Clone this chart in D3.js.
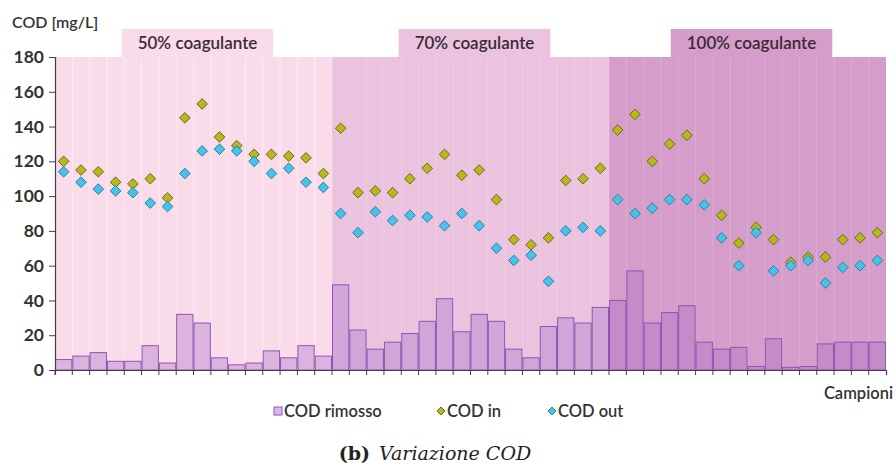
<!DOCTYPE html>
<html>
<head>
<meta charset="utf-8">
<script src="https://cdn.jsdelivr.net/npm/d3@7"></script>
<style>
body { margin: 0; background: #fff; }
</style>
</head>
<body>
<div id="chart"></div>
<script>
// sample values
const samples = d3.range(1, 49);
const codIn = [120, 115, 114, 108, 107, 110, 99, 145, 153, 134, 129, 124, 124, 123, 122, 113,
               139, 102, 103, 102, 110, 116, 124, 112, 115, 98, 75, 72, 76, 109, 110, 116,
               138, 147, 120, 130, 135, 110, 89, 73, 82, 75, 62, 65, 65, 75, 76, 79];
const codOut = [114, 108, 104, 103, 102, 96, 94, 113, 126, 127, 126, 120, 113, 116, 108, 105,
                90, 79, 91, 86, 89, 88, 83, 90, 83, 70, 63, 66, 51, 80, 82, 80,
                98, 90, 93, 98, 98, 95, 76, 60, 79, 57, 60, 63, 50, 59, 60, 63];
const codRimosso = [6, 8, 10, 5, 5, 14, 4, 32, 27, 7, 3, 4, 11, 7, 14, 8,
                    49, 23, 12, 16, 21, 28, 41, 22, 32, 28, 12, 7, 25, 30, 27, 36,
                    40, 57, 27, 33, 37, 16, 12, 13, 2, 18, 1.5, 2, 15, 16, 16, 16];
const phases = ["50% coagulante", "70% coagulante", "100% coagulante"];
const phaseSizes = [16, 16, 16];
const phaseColors = ["#f9dbea", "#ebc3df", "#d59dca"];
const yTicks = [0, 20, 40, 60, 80, 100, 120, 140, 160, 180];

const width = 896, height = 471;
const margin = {top: 57, right: 10, bottom: 101, left: 55};
const font = "Lato, 'Open Sans', sans-serif";

const svg = d3.select("#chart").append("svg")
    .attr("width", width)
    .attr("height", height)
    .style("font-family", font);

const x = d3.scaleBand()
    .domain(samples)
    .range([margin.left, width - margin.right])
    .padding(0);

const y = d3.scaleLinear()
    .domain([0, 180])
    .range([height - margin.bottom, margin.top]);

// phase backgrounds
let start = 0;
const phaseData = phaseSizes.map((n, i) => {
    const d = {name: phases[i], first: samples[start], last: samples[start + n - 1], color: phaseColors[i]};
    start += n;
    return d;
});

const bg = svg.append("g");
bg.selectAll("rect.phase")
    .data(phaseData)
    .join("rect")
    .attr("class", "phase")
    .attr("x", d => x(d.first))
    .attr("width", d => x(d.last) + x.bandwidth() - x(d.first))
    .attr("y", y(180))
    .attr("height", y(0) - y(180))
    .attr("fill", d => d.color);

// label tabs on top of each phase
bg.selectAll("g.tab")
    .data(phaseData)
    .join("g")
    .attr("class", "tab")
    .each(function(d) {
        const g = d3.select(this);
        const cx = (x(d.first) + x(d.last) + x.bandwidth()) / 2 + 4;
        const txt = g.append("text")
            .attr("x", cx)
            .attr("y", y(180) - 8)
            .attr("text-anchor", "middle")
            .attr("font-size", 17)
            .attr("font-weight", 600)
            .attr("fill", "#3a2a35")
            .text(d.name);
        const w = txt.node().getComputedTextLength() + 32;
        g.insert("rect", "text")
            .attr("x", cx - w / 2)
            .attr("y", y(180) - 28)
            .attr("width", w)
            .attr("height", 28)
            .attr("fill", d.color);
    });

// faint sample separators
bg.selectAll("line.sep")
    .data(samples.slice(1))
    .join("line")
    .attr("class", "sep")
    .attr("x1", d => x(d))
    .attr("x2", d => x(d))
    .attr("y1", y(180))
    .attr("y2", y(0))
    .attr("stroke", "#ffffff")
    .attr("stroke-opacity", (d, i) => i < 15 ? 0.45 : 0.18)
    .attr("stroke-width", 1);

// COD rimosso bars
svg.append("g")
    .selectAll("rect")
    .data(samples)
    .join("rect")
    .attr("x", d => x(d) + 0.5)
    .attr("width", x.bandwidth() - 1)
    .attr("y", (d, i) => y(codRimosso[i]))
    .attr("height", (d, i) => y(0) - y(codRimosso[i]))
    .attr("fill", "rgba(165,105,200,0.35)")
    .attr("stroke", "#8d55b4")
    .attr("stroke-width", 1);

// axes
svg.append("g")
    .attr("transform", `translate(${margin.left},0)`)
    .call(d3.axisLeft(y).tickValues(yTicks).tickSize(6).tickPadding(5))
    .call(g => g.select(".domain").attr("stroke", "#4a3a48").attr("stroke-width", 1.2))
    .call(g => g.selectAll(".tick line").attr("stroke", "#4a3a48"))
    .call(g => g.selectAll(".tick text")
        .attr("font-size", 17.5)
        .attr("font-weight", 700)
        .attr("fill", "#333")
        .attr("font-family", font));

svg.append("g")
    .attr("transform", `translate(0,${y(0)})`)
    .call(d3.axisBottom(x).tickSize(5).tickFormat(""))
    .call(g => g.select(".domain").attr("stroke", "#4a3a48").attr("stroke-width", 1.2))
    .call(g => g.selectAll(".tick").attr("transform", d => `translate(${x(d)},0)`))
    .call(g => g.selectAll(".tick line").attr("stroke", "#4a3a48"));

// diamonds
const diamond = d3.symbol().type(d3.symbolDiamond2).size(72);

svg.append("g")
    .selectAll("path")
    .data(samples)
    .join("path")
    .attr("d", diamond)
    .attr("transform", (d, i) => `translate(${x(d) + x.bandwidth() / 2},${y(codIn[i])})`)
    .attr("fill", "#b8b81c")
    .attr("stroke", "#6a6a18")
    .attr("stroke-width", 1);

svg.append("g")
    .selectAll("path")
    .data(samples)
    .join("path")
    .attr("d", diamond)
    .attr("transform", (d, i) => `translate(${x(d) + x.bandwidth() / 2},${y(codOut[i])})`)
    .attr("fill", "#45c3ea")
    .attr("stroke", "#2d7f9c")
    .attr("stroke-width", 1);

// axis titles
svg.append("text")
    .attr("x", 12)
    .attr("y", 28)
    .attr("font-size", 16)
    .attr("font-weight", 600)
    .attr("fill", "#333")
    .text("COD [mg/L]");

svg.append("text")
    .attr("x", 893)
    .attr("y", 399)
    .attr("text-anchor", "end")
    .attr("font-size", 16.5)
    .attr("font-weight", 600)
    .attr("fill", "#333")
    .text("Campioni");

// legend
const legend = svg.append("g").attr("transform", "translate(0,417)");
legend.append("rect")
    .attr("x", 274).attr("y", -10).attr("width", 8).attr("height", 8)
    .attr("fill", "rgba(165,105,200,0.45)")
    .attr("stroke", "#8d55b4");
legend.append("text").attr("x", 284).attr("y", 0).text("COD rimosso");
legend.append("path")
    .attr("d", d3.symbol().type(d3.symbolDiamond2).size(40))
    .attr("transform", "translate(441,-6)")
    .attr("fill", "#b8b81c").attr("stroke", "#6a6a18");
legend.append("text").attr("x", 447).attr("y", 0).text("COD in");
legend.append("path")
    .attr("d", d3.symbol().type(d3.symbolDiamond2).size(40))
    .attr("transform", "translate(552,-6)")
    .attr("fill", "#45c3ea").attr("stroke", "#2d7f9c");
legend.append("text").attr("x", 558).attr("y", 0).text("COD out");
legend.selectAll("text")
    .attr("font-size", 16.5)
    .attr("font-weight", 600)
    .attr("fill", "#333");

// caption
const cap = svg.append("text")
    .attr("x", 435)
    .attr("y", 460)
    .attr("text-anchor", "middle")
    .attr("font-family", "'DejaVu Serif', 'Liberation Serif', serif")
    .attr("font-size", 19)
    .attr("fill", "#222");
cap.append("tspan").attr("font-weight", 700).text("(b)");
cap.append("tspan").attr("dx", 9).attr("font-style", "italic").text("Variazione COD");
</script>
</body>
</html>
